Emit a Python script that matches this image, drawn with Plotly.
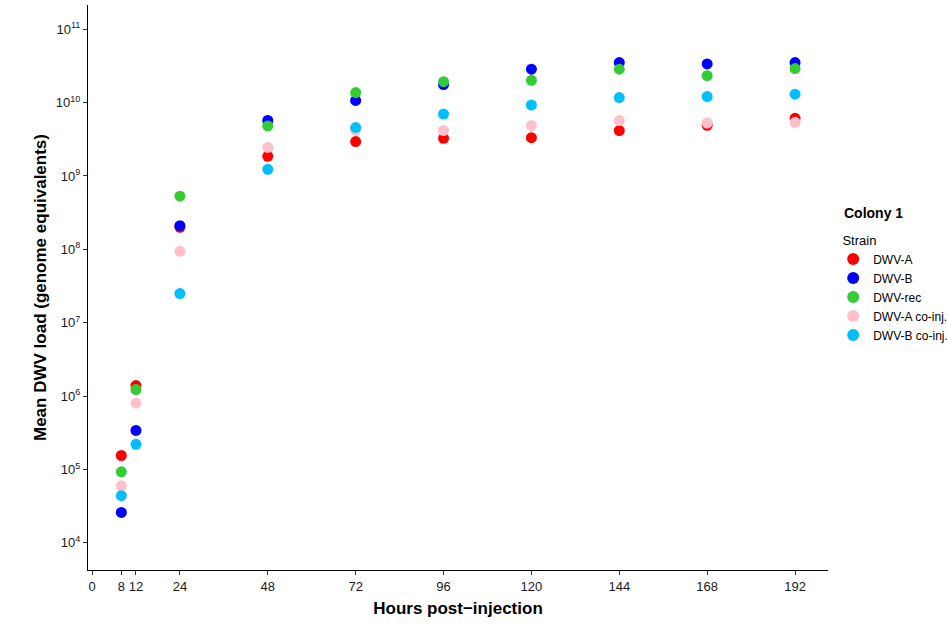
import plotly.graph_objects as go

hours = [8, 12, 24, 48, 72, 96, 120, 144, 168, 192]
x_ticks = [0, 8, 12, 24, 48, 72, 96, 120, 144, 168, 192]
y_tick_exponents = [4, 5, 6, 7, 8, 9, 10, 11]

dwv_a = [1.55e5, 1.39e6, 2.0e8, 1.85e9, 2.94e9, 3.26e9, 3.33e9, 4.15e9, 4.9e9, 6.1e9]
dwv_b = [2.6e4, 3.4e5, 2.1e8, 5.7e9, 1.07e10, 1.76e10, 2.85e10, 3.51e10, 3.36e10, 3.51e10]
dwv_rec = [9.3e4, 1.23e6, 5.3e8, 4.8e9, 1.37e10, 1.93e10, 2.01e10, 2.85e10, 2.33e10, 2.91e10]
dwv_a_coinj = [6.0e4, 8.0e5, 9.4e7, 2.45e9, 4.2e9, 4.15e9, 4.86e9, 5.68e9, 5.27e9, 5.38e9]
dwv_b_coinj = [4.4e4, 2.2e5, 2.5e7, 1.23e9, 4.56e9, 6.98e9, 9.27e9, 1.17e10, 1.21e10, 1.30e10]

series = [
    ("DWV-A", dwv_a, "#ff0000"),
    ("DWV-B", dwv_b, "#0000ff"),
    ("DWV-rec", dwv_rec, "#33cc33"),
    ("DWV-A co-inj.", dwv_a_coinj, "#ffc0cb"),
    ("DWV-B co-inj.", dwv_b_coinj, "#00bfff"),
]

fig = go.Figure()
for name, vals, col in series:
    fig.add_trace(go.Scatter(
        x=hours, y=vals, mode="markers", name=name,
        marker=dict(color=col, size=11, line=dict(width=0)),
    ))

font_family = "Liberation Sans, Arial, sans-serif"

fig.update_layout(
    width=947, height=628,
    margin=dict(l=88, r=119, t=5, b=58, autoexpand=False),
    plot_bgcolor="white", paper_bgcolor="white",
    font=dict(family=font_family, color="#000000"),
    xaxis=dict(
        range=[-1.1, 201], automargin=False,
        tickmode="array", tickvals=x_ticks, ticktext=[str(v) for v in x_ticks],
        showgrid=False, zeroline=False,
        showline=True, linecolor="black", linewidth=1,
        ticks="outside", ticklen=4, tickcolor="#333333",
        tickfont=dict(size=13, color="#1a1a1a"),
        title=dict(text="<b>Hours post\u2212injection</b>", font=dict(size=17), standoff=9),
    ),
    yaxis=dict(
        type="log", range=[3.63, 11.33], automargin=False,
        tickmode="array",
        tickvals=[10.0 ** e for e in y_tick_exponents],
        ticktext=["10<sup>%d</sup>" % e for e in y_tick_exponents],
        showgrid=False, zeroline=False,
        showline=True, linecolor="black", linewidth=1,
        ticks="outside", ticklen=4, tickcolor="#333333",
        tickfont=dict(size=13, color="#1a1a1a"),
        title=dict(text="<b>Mean DWV load (genome equivalents)</b>", font=dict(size=17), standoff=4),
    ),
    legend=dict(
        x=1.007, y=0.606, xanchor="left", yanchor="top",
        title=dict(text="\u00a0\u00a0Strain", font=dict(size=13)),
        font=dict(size=12),
        itemsizing="constant",
        bgcolor="rgba(0,0,0,0)",
    ),
    annotations=[dict(
        text="<b>Colony 1</b>", xref="paper", yref="paper",
        x=1.019, y=0.632, xanchor="left", yanchor="middle",
        showarrow=False, font=dict(size=14),
    )],
)

fig.write_html("out.html", config={"displayModeBar": False},
               post_script="document.body.style.margin='0';")
